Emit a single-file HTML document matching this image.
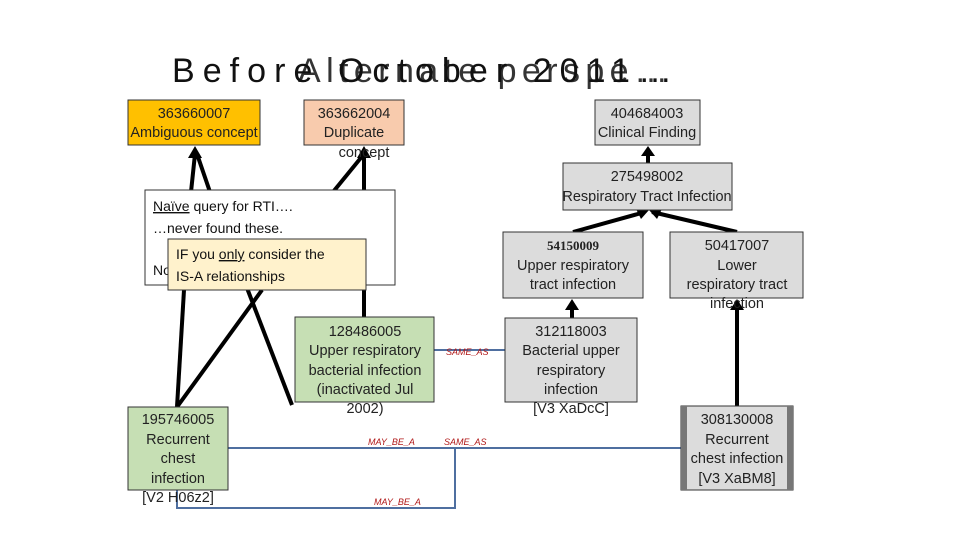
<!DOCTYPE html>
<html><head><meta charset="utf-8"><style>
body{margin:0;background:#fff;}
svg{display:block}
.t{font-family:"Liberation Sans",sans-serif;font-size:14.5px;fill:#222;text-anchor:middle}
.r{font-family:"Liberation Sans",sans-serif;font-size:9px;fill:#b01818;font-style:italic}
.n{font-family:"Liberation Sans",sans-serif;font-size:14px;fill:#111}
</style></head><body>
<svg width="960" height="540" viewBox="0 0 960 540" xmlns="http://www.w3.org/2000/svg">
<text x="172" y="82" font-family="Liberation Sans,sans-serif" font-size="34" fill="#111" textLength="500">Before October 2011…</text>
<text x="298" y="82" font-family="Liberation Sans,sans-serif" font-size="34" fill="#111" opacity="0.85" textLength="370">Alternate perspe…</text>

<!-- blue connectors -->
<g stroke="#4f6fa0" stroke-width="2" fill="none">
<line x1="434" y1="350" x2="505" y2="350"/>
<line x1="228" y1="448" x2="681" y2="448"/>
<polyline points="177,490 177,508 455,508 455,448"/>
</g>
<text class="r" x="446" y="355">SAME_AS</text>
<text class="r" x="368" y="445">MAY_BE_A</text>
<text class="r" x="444" y="445">SAME_AS</text>
<text class="r" x="374" y="505">MAY_BE_A</text>

<!-- black connectors -->
<g stroke="#000" stroke-width="4" fill="none">
<line x1="191" y1="192" x2="195" y2="154"/>
<line x1="210" y1="192" x2="197" y2="154"/>
<line x1="333" y1="192" x2="364" y2="154"/>
<line x1="364" y1="192" x2="364" y2="154"/>
<line x1="364" y1="288" x2="364" y2="317"/>
<line x1="184" y1="290" x2="177" y2="407"/>
<line x1="177" y1="407" x2="262" y2="290"/>
<line x1="292" y1="405" x2="247" y2="288"/>
<line x1="648" y1="163" x2="648" y2="153"/>
<line x1="573" y1="232" x2="645" y2="212"/>
<line x1="737" y1="232" x2="652" y2="212"/>
<line x1="572" y1="318" x2="572" y2="306"/>
<line x1="737" y1="406" x2="737" y2="306"/>
</g>
<g fill="#000">
<polygon points="195,146 188,158 202,158"/>
<polygon points="364,146 357,158 371,158"/>
<polygon points="648,146 641,156 655,156"/>
<polygon points="649,210 636,209 641,219"/>
<polygon points="649,210 662,209 657,219"/>
<polygon points="572,299 565,310 579,310"/>
<polygon points="737,299 730,310 744,310"/>
</g>

<!-- boxes -->
<g stroke="#333" stroke-width="1">
<rect x="128" y="100" width="132" height="45" fill="#ffc000"/>
<rect x="304" y="100" width="100" height="45" fill="#f8cbad"/>
<rect x="595" y="100" width="105" height="45" fill="#dcdcdc"/>
<rect x="563" y="163" width="169" height="47" fill="#dcdcdc"/>
<rect x="503" y="232" width="140" height="66" fill="#dcdcdc"/>
<rect x="670" y="232" width="133" height="66" fill="#dcdcdc"/>
<rect x="505" y="318" width="132" height="84" fill="#dcdcdc"/>
<rect x="295" y="317" width="139" height="85" fill="#c6dfb4"/>
<rect x="128" y="407" width="100" height="83" fill="#c6dfb4"/>
<rect x="681" y="406" width="112" height="84" fill="#dcdcdc"/>
</g>
<rect x="681" y="406" width="6" height="84" fill="#777"/>
<rect x="787" y="406" width="6" height="84" fill="#777"/>

<text class="t" x="194" y="118">363660007</text>
<text class="t" x="194" y="137">Ambiguous concept</text>
<text class="t" x="354" y="118">363662004</text>
<text class="t" x="354" y="137">Duplicate</text>
<text class="t" x="364" y="157">concept</text>
<text class="t" x="647" y="118">404684003</text>
<text class="t" x="647" y="137">Clinical Finding</text>
<text class="t" x="647" y="181">275498002</text>
<text class="t" x="647" y="201">Respiratory Tract Infection</text>
<text class="t" x="573" y="250" font-weight="bold" font-family="Liberation Serif,serif" style="font-family:'Liberation Serif',serif;font-size:13px">54150009</text>
<text class="t" x="573" y="270">Upper respiratory</text>
<text class="t" x="573" y="289">tract infection</text>
<text class="t" x="737" y="250">50417007</text>
<text class="t" x="737" y="270">Lower</text>
<text class="t" x="737" y="289">respiratory tract</text>
<text class="t" x="737" y="308">infection</text>
<text class="t" x="571" y="336">312118003</text>
<text class="t" x="571" y="355">Bacterial upper</text>
<text class="t" x="571" y="375">respiratory</text>
<text class="t" x="571" y="394">infection</text>
<text class="t" x="571" y="413">[V3 XaDcC]</text>
<text class="t" x="365" y="336">128486005</text>
<text class="t" x="365" y="355">Upper respiratory</text>
<text class="t" x="365" y="375">bacterial infection</text>
<text class="t" x="365" y="394">(inactivated Jul</text>
<text class="t" x="365" y="413">2002)</text>
<text class="t" x="178" y="424">195746005</text>
<text class="t" x="178" y="444">Recurrent</text>
<text class="t" x="178" y="463">chest</text>
<text class="t" x="178" y="483">infection</text>
<text class="t" x="178" y="502">[V2 H06z2]</text>
<text class="t" x="737" y="424">308130008</text>
<text class="t" x="737" y="444">Recurrent</text>
<text class="t" x="737" y="463">chest infection</text>
<text class="t" x="737" y="483">[V3 XaBM8]</text>

<!-- note boxes -->
<rect x="145" y="190" width="250" height="95" fill="#fff" stroke="#333" stroke-width="1"/>
<text class="n" x="153" y="211"><tspan text-decoration="underline">Naïve</tspan> query for RTI….</text>
<text class="n" x="153" y="233">…never found these.</text>
<text class="n" x="153" y="275">No</text>
<rect x="168" y="239" width="198" height="51" fill="#fff2cc" stroke="#333" stroke-width="1"/>
<text class="n" x="176" y="259">IF you <tspan text-decoration="underline">only</tspan> consider the</text>
<text class="n" x="176" y="281">IS-A relationships</text>
</svg>
</body></html>
